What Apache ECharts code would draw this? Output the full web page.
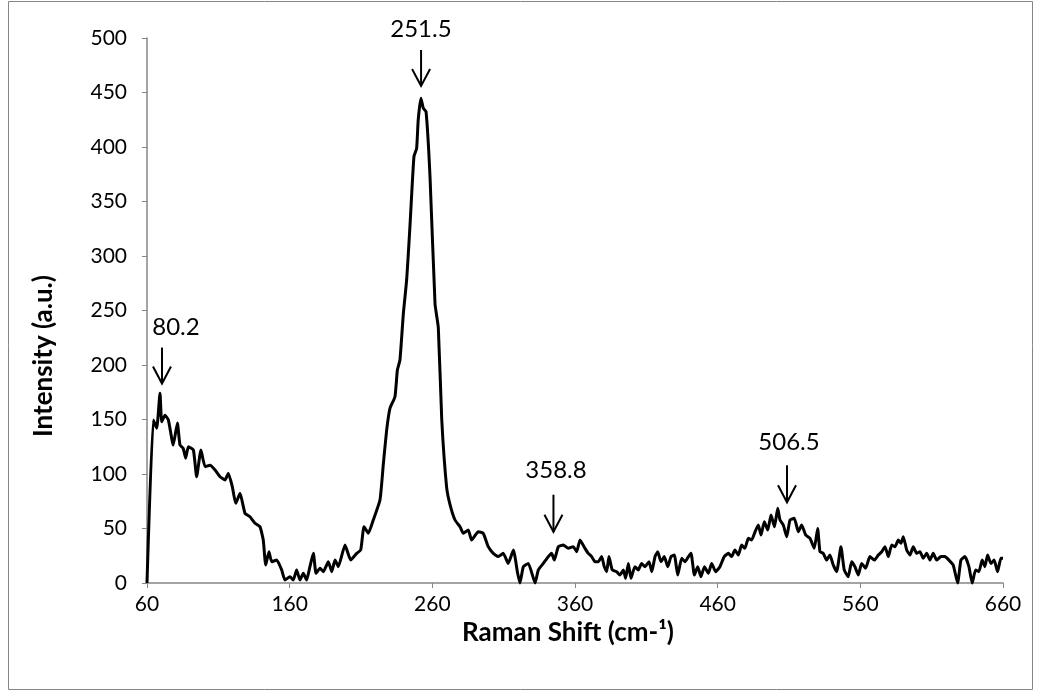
<!DOCTYPE html>
<html>
<head>
<meta charset="utf-8">
<script src="https://cdn.jsdelivr.net/npm/echarts@6/dist/echarts.min.js"></script>
<style>
  html, body { margin: 0; padding: 0; background: #fff; }
  #ramanchart { width: 1040px; height: 700px; }
</style>
</head>
<body>
<div id="ramanchart"></div>
<script>
// Raman shift (cm-1) and intensity (a.u.)
var shift = [
  60, 64.4, 66.8, 69.1, 70.3, 72.6, 75, 78.4, 81.3, 83.1, 85.4, 87.1, 89, 92.5, 94.8, 97.8,
  100.7, 104.2, 107.7, 111.2, 114.7, 117, 119.8, 122.2, 125.2, 128.7, 132.2, 135.7, 139.2,
  141.5, 143.2, 145.5, 147.4, 150.9, 154.4, 156.7, 160.2, 162.5, 164.9, 167.2, 169.6, 171.9,
  174.2, 176.6, 178.5, 181.3, 183.6, 187.1, 189.5, 191.8, 194.1, 198.8, 202.8, 207, 209.8,
  212.1, 215.1, 218.6, 223.3, 225.7, 228, 230.3, 233.8, 235.5, 237.3, 239.7, 242, 244.3,
  247.1, 249, 250.1, 252, 253.7, 255.6, 258.4, 261.9, 264.2, 266.6, 270, 272.4, 275.9,
  279.4, 281.7, 285.2, 287.5, 292.2, 295.7, 299.2, 302.7, 306.2, 309.7, 313.2, 316.8,
  319.8, 321.4, 323.8, 327.3, 332, 334.3, 337.8, 341.3, 343.6, 345.5, 348.3, 351.8, 355.3,
  358.8, 361.2, 363.5, 367, 369.3, 371.7, 374, 376.3, 378.7, 380.5, 382.2, 383.8, 386.1,
  389.2, 391.5, 393.9, 395.5, 397.4, 399.2, 402, 404.4, 406.7, 409.1, 411.9, 413.8, 416.1,
  418, 420.3, 422.6, 425, 427.3, 429.6, 432, 434.8, 437.1, 439.5, 441.3, 443.7, 446, 448.3,
  450.7, 453.5, 455.8, 458.6, 461.6, 464.6, 467.5, 469.8, 472.1, 474.5, 476.8, 479.1,
  481.5, 483.8, 486.2, 488.5, 490.4, 492.7, 495.1, 497.4, 499.8, 502.1, 503.7, 506, 508.4,
  510.7, 513.7, 516.5, 518.9, 521.7, 524.7, 527.7, 530.1, 531.7, 534, 536.4, 538.7, 541,
  543.4, 546.4, 548.7, 551.5, 553.9, 556.2, 558.6, 560.9, 563.7, 566.7, 569.8, 572.6, 575,
  577.3, 579.6, 582, 584.3, 586.6, 588.5, 590.1, 592.5, 594.8, 597.1, 599.5, 601.8, 604.1,
  606.5, 608.8, 611.1, 613.5, 616.5, 619.3, 622.1, 625.1, 628.2, 630.5, 633.3, 636.1,
  638.4, 640.8, 643.1, 645.4, 647.3, 649.2, 651.5, 653.8, 656.2, 658.5, 660
];
var intensity = [
  0, 149.5, 142, 174, 148, 154, 149.5, 126.6, 146.8, 126.6, 123.5, 114.4, 125, 122, 97.5, 122,
  106.7, 108, 103.7, 97.5, 94.5, 100.6, 88.3, 73.1, 82.3, 63.9, 60.8, 54.8, 51.6,
  39.4, 16.5, 28.7, 19.5, 21, 12, 2.8, 5.8, 2.8, 12, 2.8, 8.9, 2.8,
  15, 27.2, 8.9, 13.5, 10.4, 19.5, 10.4, 21, 15, 34.9, 21, 27.2, 30.3,
  51.6, 45.6, 57.8, 76.1, 109.8, 140.4, 160.2, 170.9, 195.4, 204.6, 247.4, 278, 326.9,
  391.1, 398.8, 424.8, 444.7, 435.5, 432.4, 372, 256, 234, 150, 88, 72, 57.8,
  51.6, 45.6, 48.6, 39.4, 47, 45.6, 33.3, 27.2, 24.2, 27.2, 18, 30.3,
  8.9, 0, 15, 18, 0, 12, 18, 24.2, 27.2, 21, 33.3, 34.9, 31.8,
  33.3, 28.7, 39.4, 31.8, 27.2, 24.2, 19.5, 19.5, 24.2, 15, 10.4, 24.2, 12,
  10.4, 7.3, 12, 4.3, 18, 4.3, 15, 12, 18, 15, 19.5, 10.4, 24.2,
  28.7, 19.5, 24.2, 15, 24.2, 25.7, 7.3, 22.7, 19.5, 24.2, 27.2, 7.3, 15, 5.8,
  15, 8.9, 18, 10.4, 15, 24.2, 27.2, 24.2, 30.3, 25.7, 34.9, 31.8,
  41, 39.4, 47, 53.2, 44, 56.2, 48.6, 62.4, 51.6, 68.5, 57.8, 53.2, 42.5,
  57.8, 59.3, 47, 53.2, 44, 41, 31.8, 50.1, 28.7, 27.2, 21, 25.7, 16.5,
  10.4, 33.3, 12, 5.8, 19.5, 15, 7.3, 18, 13.5, 24.2, 21, 25.7, 28.7,
  33.3, 24.2, 34.9, 33.3, 39.4, 36.4, 42.5, 30.3, 25.7, 33.3, 27.2, 28.7, 22.7,
  27.2, 21, 27.2, 21, 24.2, 24.2, 21, 16.5, 0, 21, 24.2, 15,
  0, 12, 10.4, 21, 15, 25.7, 18, 21, 10.4, 22.7, 22.7
];

// peak annotations (data units): label text and position, arrow x with top / tip
var peakLabels = ['80.2', '251.5', '358.8', '506.5'];
var labelX = [80.3, 252, 346.7, 510];
var labelY = [235, 508, 103, 129];
var arrowX = [70.5, 252.1, 344.9, 508.6];
var arrowTop = [216, 489, 81, 108];
var arrowTip = [183, 456, 47, 74];

var xTitle = 'Raman Shift (cm-¹)';
var yTitle = 'Intensity (a.u.)';

var chartDom = document.getElementById('ramanchart');
var myChart = echarts.init(chartDom);
var option;

var points = shift.map(function (x, i) { return [x, intensity[i]]; });
var font = 'Lato';

option = {
    animation: false,
    backgroundColor: '#fff',
    grid: { left: 147, right: 37, top: 38, bottom: 117 },
    xAxis: {
        type: 'value',
        min: 60,
        max: 660,
        interval: 100,
        axisLine: { lineStyle: { color: '#868686', width: 1.5 } },
        axisTick: { show: true, length: 5, lineStyle: { color: '#868686' } },
        axisLabel: { fontFamily: font, fontSize: 21, color: '#000', margin: 11 },
        splitLine: { show: false }
    },
    yAxis: {
        type: 'value',
        min: 0,
        max: 500,
        interval: 50,
        axisLine: { show: true, lineStyle: { color: '#868686', width: 1.5 } },
        axisTick: { show: true, length: 5, lineStyle: { color: '#868686' } },
        axisLabel: { fontFamily: font, fontSize: 21, color: '#000', margin: 20 },
        splitLine: { show: false }
    },
    series: [
        {
            type: 'line',
            data: points,
            showSymbol: false,
            smooth: 0.15,
            clip: false,
            lineStyle: { color: '#000', width: 3 }
        }
    ]
};

option && myChart.setOption(option);

// border, axis titles and arrows placed through the axes
var graphics = [{
    type: 'rect',
    shape: { x: 8.5, y: 1.5, width: 1024, height: 688 },
    style: { fill: 'none', stroke: '#868686', lineWidth: 1 },
    silent: true
}, {
    type: 'text',
    x: 568,
    y: 633,
    style: { text: xTitle, fontFamily: font, fontWeight: 'bold', fontSize: 26, fill: '#000', align: 'center', verticalAlign: 'middle' }
}, {
    type: 'text',
    x: 44,
    y: 356,
    rotation: Math.PI / 2,
    style: { text: yTitle, fontFamily: font, fontWeight: 'bold', fontSize: 26, fill: '#000', align: 'center', verticalAlign: 'middle' }
}];
peakLabels.forEach(function (txt, i) {
    var top = myChart.convertToPixel({ gridIndex: 0 }, [arrowX[i], arrowTop[i]]);
    var tip = myChart.convertToPixel({ gridIndex: 0 }, [arrowX[i], arrowTip[i]]);
    var lab = myChart.convertToPixel({ gridIndex: 0 }, [labelX[i], labelY[i]]);
    graphics.push({
        type: 'line',
        shape: { x1: top[0], y1: top[1], x2: tip[0], y2: tip[1] },
        style: { stroke: '#000', lineWidth: 2 }
    });
    graphics.push({
        type: 'polyline',
        shape: { points: [[tip[0] - 9, tip[1] - 17], [tip[0], tip[1]], [tip[0] + 9, tip[1] - 17]] },
        style: { stroke: '#000', lineWidth: 2, fill: null }
    });
    graphics.push({
        type: 'text',
        x: lab[0],
        y: lab[1],
        style: {
            text: txt,
            fontFamily: font,
            fontSize: 24,
            fill: '#000',
            align: 'center',
            verticalAlign: 'middle'
        }
    });
});
myChart.setOption({ graphic: graphics });
</script>
</body>
</html>
